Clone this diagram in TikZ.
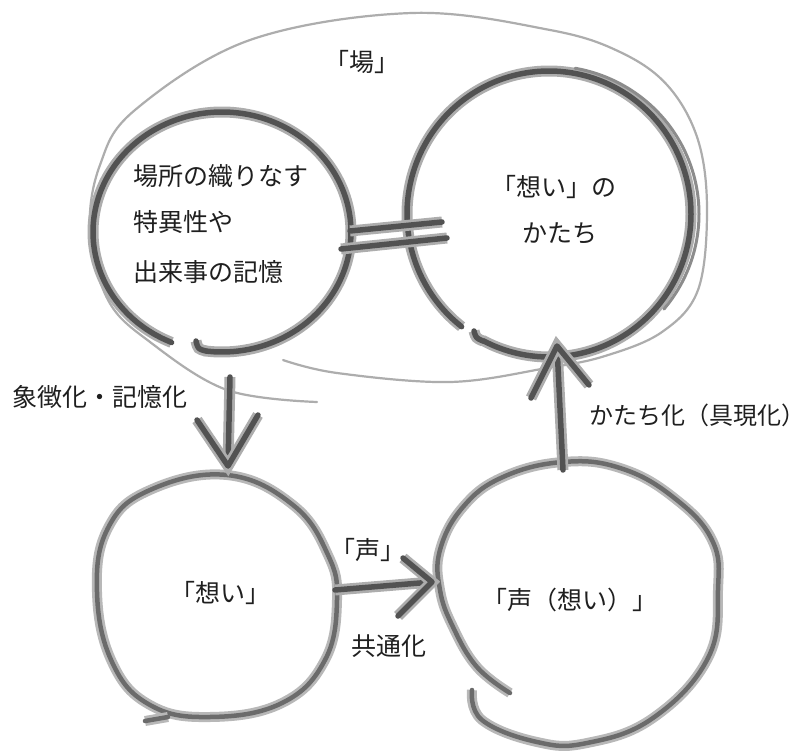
\documentclass[tikz,border=0pt]{standalone}
\usepackage{fontspec}
\newfontfamily\jp{Noto Sans CJK JP}
\begin{document}
\begin{tikzpicture}[x=1pt,y=-1pt,
  field/.style={draw=black!32, line width=2.2pt, line cap=round, line join=round},
  heavy/.style={draw=black!68, line width=5.5pt, line cap=round, line join=round,
    preaction={draw=black!32, line width=11pt}},
  soft/.style={draw=black!58, line width=4.5pt, line cap=round, line join=round,
    preaction={draw=black!28, line width=10pt}},
  lbl/.style={font=\jp\fontsize{25}{30}\selectfont, text=black!88, inner sep=0pt},
]
\useasboundingbox[fill=white] (0,0) rectangle (806,754);

% field outline
\draw[field] plot[smooth, tension=0.6] coordinates {(317,402) (227,390) (150,342) (108,300) (90,230) (100,165) (135,110) (250,40) (412,13) (550,30) (620,52) (668,86) (698,140) (707,210) (698,290) (662,332) (605,356) (547,368) (450,382) (337,373) (283,360)};

% left top circle
\draw[heavy] plot[smooth, domain=-247:98, samples=80, variable=\t] ({222+129*cos(\t)},{232+120*sin(\t)});
\draw[heavy] (196,341) .. controls (198,349) .. (206,351);

% right top circle
\draw[heavy] plot[smooth, domain=-232:118, samples=90, variable=\t] ({549+142*cos(\t)},{214+143*sin(\t)});
\draw[heavy] (474,331) .. controls (476,338) .. (483,341);
\draw[draw=black!45, line width=3pt, line cap=round] plot[smooth, domain=-80:40, samples=40, variable=\t] ({549+150*cos(\t)},{214+148*sin(\t)});

% equal bars
\coordinate (e1a) at (350,231); \coordinate (e1b) at (442,222);
\coordinate (e2a) at (341,249); \coordinate (e2b) at (447,238);
\draw[heavy] (e1a) -- (e1b);
\draw[heavy] (e2a) -- (e2b);

% bottom left circle
\draw[soft] plot[smooth cycle, tension=0.7] coordinates {(227,475) (293,505) (328,555) (337,600) (325,660) (282,703) (210,717) (150,705) (112,662) (97,592) (108,528) (150,490)};
\draw[soft] (168,717) -- (145,721);

% bottom right circle
\draw[soft] plot[smooth, tension=0.7] coordinates {(472,690) (482,720) (537,742) (587,743) (653,718) (708,658) (718,590) (712,540) (673,497) (620,468) (563,462) (503,477) (463,507) (440,550) (440,590) (453,627) (477,667) (510,693)};

% down arrow
\coordinate (da) at (230,377); \coordinate (db) at (228,466);
\coordinate (dl) at (197,420); \coordinate (dr) at (258,415);
\draw[heavy] (da) -- (db);
\draw[heavy] (dl) -- (db) -- (dr);

% up arrow
\coordinate (ua) at (563,470); \coordinate (ub) at (557,346);
\coordinate (ul) at (531,398); \coordinate (ur) at (589,385);
\draw[heavy] (ua) -- (ub);
\draw[heavy] (ul) -- (ub) -- (ur);

% right arrow
\coordinate (ra) at (335,590); \coordinate (rb) at (432,582);
\coordinate (ru) at (403,558); \coordinate (rd) at (398,616);
\draw[heavy] (ra) -- (rb);
\draw[heavy] (ru) -- (rb) -- (rd);

% labels
\node[lbl] (ba) at (362,62) {「場」};
\node[lbl, anchor=west] (t1) at (133,176) {場所の織りなす};
\node[lbl, anchor=west] (t2) at (133,222) {特異性や};
\node[lbl, anchor=west] (t3) at (133,272) {出来事の記憶};
\node[lbl] (k1) at (554,187) {「想い」の};
\node[lbl] (k2) at (560,233) {かたち};
\node[lbl] (sy) at (100,397) {象徴化・記憶化};
\node[lbl, anchor=west, font=\jp\fontsize{24}{29}\selectfont] (kt) at (589,415) {かたち化（具現化\makebox[0.5em][l]{）}};
\node[lbl] (om) at (220,593) {「想い」};
\node[lbl] (ko) at (368,550) {「声」};
\node[lbl] (kt2) at (389,646) {共通化};
\node[lbl] (ko2) at (570,600) {「声（想い）」};
\end{tikzpicture}
\end{document}
